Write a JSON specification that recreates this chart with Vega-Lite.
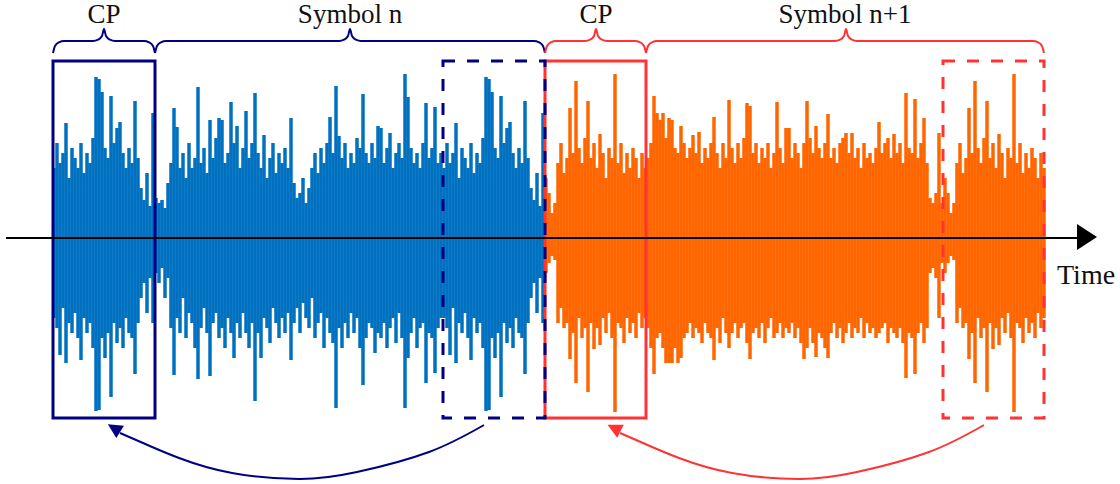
{
"$schema": "https://vega.github.io/schema/vega-lite/v6.json",
"width": 1120, "height": 484,
"autosize": {"type": "fit", "contains": "padding"},
"padding": 0,
"background": "white",
"config": {"view": {"stroke": null}},
"datasets": {
"blue": [
{"x":54,"y":70,"y2":-80},{"x":57,"y":95,"y2":-90},{"x":60,"y":75,"y2":-117},{"x":63,"y":85,"y2":-70},{"x":66,"y":115,"y2":-125},{"x":69,"y":60,"y2":-85},{"x":72,"y":90,"y2":-95},{"x":75,"y":80,"y2":-75},{"x":78,"y":70,"y2":-100},{"x":81,"y":95,"y2":-122},{"x":84,"y":65,"y2":-80},{"x":87,"y":85,"y2":-95},{"x":90,"y":75,"y2":-85},{"x":93,"y":100,"y2":-110},{"x":96,"y":161,"y2":-173},{"x":99,"y":159,"y2":-172},{"x":102,"y":146,"y2":-100},{"x":105,"y":90,"y2":-120},{"x":108,"y":80,"y2":-95},{"x":111,"y":142,"y2":-159},{"x":114,"y":95,"y2":-85},{"x":117,"y":110,"y2":-105},{"x":120,"y":116,"y2":-90},{"x":123,"y":85,"y2":-110},{"x":126,"y":70,"y2":-80},{"x":129,"y":90,"y2":-95},{"x":132,"y":75,"y2":-100},{"x":135,"y":137,"y2":-136},{"x":138,"y":80,"y2":-85},{"x":141,"y":50,"y2":-60},{"x":144,"y":38,"y2":-45},{"x":147,"y":65,"y2":-75},{"x":150,"y":32,"y2":-40},{"x":153,"y":125,"y2":-85},
{"x":156,"y":40,"y2":-35},{"x":159,"y":35,"y2":-45},{"x":162,"y":38,"y2":-30},{"x":165,"y":30,"y2":-60},{"x":168,"y":55,"y2":-40},{"x":171,"y":75,"y2":-90},{"x":174,"y":130,"y2":-137},{"x":177,"y":111,"y2":-80},{"x":180,"y":70,"y2":-95},{"x":183,"y":85,"y2":-60},{"x":186,"y":60,"y2":-100},{"x":189,"y":95,"y2":-75},{"x":192,"y":70,"y2":-85},{"x":195,"y":80,"y2":-110},{"x":198,"y":151,"y2":-141},{"x":201,"y":75,"y2":-90},{"x":204,"y":90,"y2":-70},{"x":207,"y":65,"y2":-95},{"x":210,"y":118,"y2":-138},{"x":213,"y":80,"y2":-85},{"x":216,"y":100,"y2":-75},{"x":219,"y":120,"y2":-100},{"x":222,"y":118,"y2":-90},{"x":225,"y":75,"y2":-110},{"x":228,"y":85,"y2":-80},{"x":231,"y":136,"y2":-95},{"x":234,"y":95,"y2":-120},{"x":237,"y":112,"y2":-85},{"x":240,"y":70,"y2":-100},{"x":243,"y":90,"y2":-75},{"x":246,"y":127,"y2":-95},{"x":249,"y":80,"y2":-110},{"x":252,"y":95,"y2":-85},{"x":255,"y":145,"y2":-163},{"x":258,"y":85,"y2":-95},{"x":261,"y":70,"y2":-120},{"x":264,"y":103,"y2":-80},{"x":267,"y":60,"y2":-90},{"x":270,"y":80,"y2":-105},{"x":273,"y":95,"y2":-70},{"x":276,"y":65,"y2":-85},{"x":279,"y":85,"y2":-100},{"x":282,"y":75,"y2":-80},{"x":285,"y":90,"y2":-95},{"x":288,"y":70,"y2":-75},{"x":291,"y":120,"y2":-122},{"x":294,"y":55,"y2":-85},{"x":297,"y":40,"y2":-70},{"x":300,"y":45,"y2":-95},{"x":303,"y":60,"y2":-65},{"x":306,"y":35,"y2":-80},{"x":309,"y":50,"y2":-90},{"x":312,"y":70,"y2":-60},{"x":315,"y":85,"y2":-100},{"x":318,"y":65,"y2":-85},{"x":321,"y":90,"y2":-75},{"x":324,"y":75,"y2":-110},{"x":327,"y":95,"y2":-80},{"x":330,"y":121,"y2":-95},{"x":333,"y":85,"y2":-105},{"x":336,"y":152,"y2":-170},{"x":339,"y":102,"y2":-90},{"x":342,"y":80,"y2":-110},{"x":345,"y":95,"y2":-85},{"x":348,"y":70,"y2":-100},{"x":351,"y":85,"y2":-75},{"x":354,"y":75,"y2":-95},{"x":357,"y":100,"y2":-80},{"x":360,"y":90,"y2":-110},{"x":363,"y":144,"y2":-147},{"x":366,"y":85,"y2":-100},{"x":369,"y":75,"y2":-85},{"x":372,"y":95,"y2":-90},{"x":375,"y":80,"y2":-115},{"x":378,"y":112,"y2":-95},{"x":381,"y":110,"y2":-100},{"x":384,"y":75,"y2":-85},{"x":387,"y":90,"y2":-110},{"x":390,"y":105,"y2":-90},{"x":393,"y":70,"y2":-80},{"x":396,"y":85,"y2":-105},{"x":399,"y":95,"y2":-75},{"x":402,"y":80,"y2":-100},{"x":405,"y":164,"y2":-170},{"x":408,"y":141,"y2":-120},{"x":411,"y":90,"y2":-95},{"x":414,"y":75,"y2":-80},{"x":417,"y":85,"y2":-110},{"x":420,"y":70,"y2":-90},{"x":423,"y":95,"y2":-85},{"x":426,"y":135,"y2":-145},{"x":429,"y":80,"y2":-95},{"x":432,"y":90,"y2":-100},{"x":435,"y":131,"y2":-135},{"x":438,"y":75,"y2":-90},{"x":441,"y":85,"y2":-80},
{"x":444,"y":70,"y2":-80},{"x":447,"y":95,"y2":-90},{"x":450,"y":75,"y2":-117},{"x":453,"y":85,"y2":-70},{"x":456,"y":115,"y2":-125},{"x":459,"y":60,"y2":-85},{"x":462,"y":90,"y2":-95},{"x":465,"y":80,"y2":-75},{"x":468,"y":70,"y2":-100},{"x":471,"y":95,"y2":-122},{"x":474,"y":65,"y2":-80},{"x":477,"y":85,"y2":-95},{"x":480,"y":75,"y2":-85},{"x":483,"y":100,"y2":-110},{"x":486,"y":161,"y2":-173},{"x":489,"y":159,"y2":-172},{"x":492,"y":146,"y2":-100},{"x":495,"y":90,"y2":-120},{"x":498,"y":80,"y2":-95},{"x":501,"y":142,"y2":-159},{"x":504,"y":95,"y2":-85},{"x":507,"y":110,"y2":-105},{"x":510,"y":116,"y2":-90},{"x":513,"y":85,"y2":-110},{"x":516,"y":70,"y2":-80},{"x":519,"y":90,"y2":-95},{"x":522,"y":75,"y2":-100},{"x":525,"y":137,"y2":-136},{"x":528,"y":80,"y2":-85},{"x":531,"y":50,"y2":-60},{"x":534,"y":38,"y2":-45},{"x":537,"y":65,"y2":-75},{"x":540,"y":32,"y2":-40},{"x":543,"y":125,"y2":-85}
],
"orange": [
{"x":546,"y":60,"y2":-35},{"x":549,"y":45,"y2":-25},{"x":552,"y":25,"y2":-18},{"x":555,"y":35,"y2":-22},{"x":558,"y":75,"y2":-85},{"x":561,"y":95,"y2":-70},{"x":564,"y":65,"y2":-90},{"x":567,"y":80,"y2":-85},{"x":570,"y":130,"y2":-121},{"x":573,"y":85,"y2":-95},{"x":576,"y":157,"y2":-145},{"x":579,"y":90,"y2":-80},{"x":582,"y":75,"y2":-100},{"x":585,"y":100,"y2":-90},{"x":588,"y":137,"y2":-154},{"x":591,"y":80,"y2":-85},{"x":594,"y":95,"y2":-111},{"x":597,"y":70,"y2":-90},{"x":600,"y":104,"y2":-107},{"x":603,"y":85,"y2":-80},{"x":606,"y":60,"y2":-95},{"x":609,"y":90,"y2":-75},{"x":612,"y":80,"y2":-100},{"x":615,"y":164,"y2":-174},{"x":618,"y":75,"y2":-85},{"x":621,"y":95,"y2":-90},{"x":624,"y":65,"y2":-105},{"x":627,"y":85,"y2":-80},{"x":630,"y":70,"y2":-95},{"x":633,"y":90,"y2":-85},{"x":636,"y":80,"y2":-100},{"x":639,"y":60,"y2":-75},{"x":642,"y":85,"y2":-90},{"x":645,"y":70,"y2":-80},
{"x":648,"y":80,"y2":-90},{"x":651,"y":95,"y2":-110},{"x":654,"y":142,"y2":-136},{"x":657,"y":125,"y2":-100},{"x":660,"y":118,"y2":-95},{"x":663,"y":125,"y2":-110},{"x":666,"y":100,"y2":-125},{"x":669,"y":120,"y2":-125},{"x":672,"y":118,"y2":-125},{"x":675,"y":90,"y2":-110},{"x":678,"y":85,"y2":-125},{"x":681,"y":112,"y2":-120},{"x":684,"y":95,"y2":-100},{"x":687,"y":80,"y2":-95},{"x":690,"y":90,"y2":-85},{"x":693,"y":103,"y2":-100},{"x":696,"y":85,"y2":-90},{"x":699,"y":106,"y2":-95},{"x":702,"y":75,"y2":-105},{"x":705,"y":90,"y2":-85},{"x":708,"y":80,"y2":-95},{"x":711,"y":95,"y2":-100},{"x":714,"y":121,"y2":-122},{"x":717,"y":85,"y2":-90},{"x":720,"y":70,"y2":-105},{"x":723,"y":95,"y2":-80},{"x":726,"y":80,"y2":-95},{"x":729,"y":138,"y2":-110},{"x":732,"y":90,"y2":-95},{"x":735,"y":75,"y2":-85},{"x":738,"y":95,"y2":-100},{"x":741,"y":80,"y2":-90},{"x":744,"y":100,"y2":-85},{"x":747,"y":135,"y2":-105},{"x":750,"y":132,"y2":-121},{"x":753,"y":85,"y2":-95},{"x":756,"y":95,"y2":-90},{"x":759,"y":75,"y2":-100},{"x":762,"y":90,"y2":-85},{"x":765,"y":80,"y2":-105},{"x":768,"y":95,"y2":-90},{"x":771,"y":70,"y2":-80},{"x":774,"y":85,"y2":-100},{"x":777,"y":136,"y2":-95},{"x":780,"y":90,"y2":-85},{"x":783,"y":75,"y2":-100},{"x":786,"y":110,"y2":-90},{"x":789,"y":110,"y2":-95},{"x":792,"y":80,"y2":-85},{"x":795,"y":95,"y2":-100},{"x":798,"y":85,"y2":-90},{"x":801,"y":70,"y2":-105},{"x":804,"y":95,"y2":-121},{"x":807,"y":137,"y2":-110},{"x":810,"y":100,"y2":-90},{"x":813,"y":85,"y2":-105},{"x":816,"y":112,"y2":-119},{"x":819,"y":90,"y2":-95},{"x":822,"y":80,"y2":-100},{"x":825,"y":95,"y2":-110},{"x":828,"y":124,"y2":-120},{"x":831,"y":80,"y2":-95},{"x":834,"y":90,"y2":-85},{"x":837,"y":75,"y2":-100},{"x":840,"y":95,"y2":-90},{"x":843,"y":100,"y2":-105},{"x":846,"y":105,"y2":-95},{"x":849,"y":85,"y2":-85},{"x":852,"y":105,"y2":-100},{"x":855,"y":80,"y2":-90},{"x":858,"y":90,"y2":-95},{"x":861,"y":70,"y2":-80},{"x":864,"y":95,"y2":-100},{"x":867,"y":80,"y2":-85},{"x":870,"y":85,"y2":-95},{"x":873,"y":75,"y2":-90},{"x":876,"y":90,"y2":-100},{"x":879,"y":116,"y2":-95},{"x":882,"y":85,"y2":-90},{"x":885,"y":95,"y2":-85},{"x":888,"y":100,"y2":-105},{"x":891,"y":80,"y2":-90},{"x":894,"y":104,"y2":-95},{"x":897,"y":85,"y2":-100},{"x":900,"y":95,"y2":-90},{"x":903,"y":75,"y2":-105},{"x":906,"y":145,"y2":-140},{"x":909,"y":90,"y2":-95},{"x":912,"y":85,"y2":-100},{"x":915,"y":139,"y2":-136},{"x":918,"y":80,"y2":-95},{"x":921,"y":95,"y2":-85},{"x":924,"y":120,"y2":-105},{"x":927,"y":75,"y2":-90},{"x":930,"y":40,"y2":-35},{"x":933,"y":35,"y2":-30},{"x":936,"y":45,"y2":-40},{"x":939,"y":105,"y2":-80},{"x":942,"y":35,"y2":-25},
{"x":945,"y":60,"y2":-35},{"x":948,"y":45,"y2":-25},{"x":951,"y":25,"y2":-18},{"x":954,"y":35,"y2":-22},{"x":957,"y":75,"y2":-85},{"x":960,"y":95,"y2":-70},{"x":963,"y":65,"y2":-90},{"x":966,"y":80,"y2":-85},{"x":969,"y":130,"y2":-121},{"x":972,"y":85,"y2":-95},{"x":975,"y":157,"y2":-145},{"x":978,"y":90,"y2":-80},{"x":981,"y":75,"y2":-100},{"x":984,"y":100,"y2":-90},{"x":987,"y":137,"y2":-154},{"x":990,"y":80,"y2":-85},{"x":993,"y":95,"y2":-111},{"x":996,"y":70,"y2":-90},{"x":999,"y":104,"y2":-107},{"x":1002,"y":85,"y2":-80},{"x":1005,"y":60,"y2":-95},{"x":1008,"y":90,"y2":-75},{"x":1011,"y":80,"y2":-100},{"x":1014,"y":164,"y2":-174},{"x":1017,"y":75,"y2":-85},{"x":1020,"y":95,"y2":-90},{"x":1023,"y":65,"y2":-105},{"x":1026,"y":85,"y2":-80},{"x":1029,"y":70,"y2":-95},{"x":1032,"y":90,"y2":-85},{"x":1035,"y":80,"y2":-100},{"x":1038,"y":60,"y2":-75},{"x":1041,"y":85,"y2":-90},{"x":1044,"y":70,"y2":-80}
],
"braces": [
{"x":53,"y":185,"g":"A","s":"n"},{"x":55,"y":192,"g":"A","s":"n"},{"x":59,"y":195.7,"g":"A","s":"n"},{"x":64,"y":197,"g":"A","s":"n"},{"x":93,"y":197,"g":"A","s":"n"},{"x":98,"y":198.3,"g":"A","s":"n"},{"x":102,"y":202,"g":"A","s":"n"},{"x":104,"y":209,"g":"A","s":"n"},{"x":106,"y":202,"g":"A","s":"n"},{"x":110,"y":198.3,"g":"A","s":"n"},{"x":115,"y":197,"g":"A","s":"n"},{"x":144,"y":197,"g":"A","s":"n"},{"x":149,"y":195.7,"g":"A","s":"n"},{"x":153,"y":192,"g":"A","s":"n"},{"x":155,"y":185,"g":"A","s":"n"},
{"x":155,"y":185,"g":"B","s":"n"},{"x":157,"y":192,"g":"B","s":"n"},{"x":161,"y":195.7,"g":"B","s":"n"},{"x":166,"y":197,"g":"B","s":"n"},{"x":339,"y":197,"g":"B","s":"n"},{"x":344,"y":198.3,"g":"B","s":"n"},{"x":348,"y":202,"g":"B","s":"n"},{"x":350,"y":209,"g":"B","s":"n"},{"x":352,"y":202,"g":"B","s":"n"},{"x":356,"y":198.3,"g":"B","s":"n"},{"x":361,"y":197,"g":"B","s":"n"},{"x":534,"y":197,"g":"B","s":"n"},{"x":539,"y":195.7,"g":"B","s":"n"},{"x":543,"y":192,"g":"B","s":"n"},{"x":545,"y":185,"g":"B","s":"n"},
{"x":545,"y":185,"g":"C","s":"n1"},{"x":547,"y":192,"g":"C","s":"n1"},{"x":551,"y":195.7,"g":"C","s":"n1"},{"x":556,"y":197,"g":"C","s":"n1"},{"x":585,"y":197,"g":"C","s":"n1"},{"x":590,"y":198.3,"g":"C","s":"n1"},{"x":594,"y":202,"g":"C","s":"n1"},{"x":596,"y":209,"g":"C","s":"n1"},{"x":598,"y":202,"g":"C","s":"n1"},{"x":602,"y":198.3,"g":"C","s":"n1"},{"x":607,"y":197,"g":"C","s":"n1"},{"x":635,"y":197,"g":"C","s":"n1"},{"x":640,"y":195.7,"g":"C","s":"n1"},{"x":644,"y":192,"g":"C","s":"n1"},{"x":646,"y":185,"g":"C","s":"n1"},
{"x":646,"y":185,"g":"D","s":"n1"},{"x":648,"y":192,"g":"D","s":"n1"},{"x":652,"y":195.7,"g":"D","s":"n1"},{"x":657,"y":197,"g":"D","s":"n1"},{"x":835,"y":197,"g":"D","s":"n1"},{"x":840,"y":198.3,"g":"D","s":"n1"},{"x":844,"y":202,"g":"D","s":"n1"},{"x":846,"y":209,"g":"D","s":"n1"},{"x":848,"y":202,"g":"D","s":"n1"},{"x":852,"y":198.3,"g":"D","s":"n1"},{"x":857,"y":197,"g":"D","s":"n1"},{"x":1033,"y":197,"g":"D","s":"n1"},{"x":1038,"y":195.7,"g":"D","s":"n1"},{"x":1042,"y":192,"g":"D","s":"n1"},{"x":1044,"y":185,"g":"D","s":"n1"}
]
},
"encoding": {
"x": {"field": "x", "type": "quantitative", "scale": {"domain": [0, 1120], "nice": false, "zero": false}, "axis": null},
"y": {"field": "y", "type": "quantitative", "scale": {"domain": [-246, 238], "nice": false, "zero": false}, "axis": null}
},
"layer": [
{"data": {"name": "blue"}, "mark": {"type": "rule", "strokeWidth": 3.5, "color": "#0070C0", "strokeCap": "butt"}, "encoding": {"y2": {"field": "y2"}}},
{"data": {"name": "orange"}, "mark": {"type": "rule", "strokeWidth": 3.5, "color": "#FF6600", "strokeCap": "butt"}, "encoding": {"y2": {"field": "y2"}}},
{"data": {"values": [{"x": 545, "x2": 646, "y": 177, "y2": -180}]}, "mark": {"type": "rect", "filled": false, "color": "#FF3333", "strokeWidth": 3}, "encoding": {"x2": {"field": "x2"}, "y2": {"field": "y2"}}},
{"data": {"values": [{"x": 943, "x2": 1044, "y": 177, "y2": -180}]}, "mark": {"type": "rect", "filled": false, "color": "#FF3333", "strokeWidth": 3, "strokeDash": [12, 12]}, "encoding": {"x2": {"field": "x2"}, "y2": {"field": "y2"}}},
{"data": {"values": [{"x": 53, "x2": 155, "y": 177, "y2": -180}]}, "mark": {"type": "rect", "filled": false, "color": "#000080", "strokeWidth": 3}, "encoding": {"x2": {"field": "x2"}, "y2": {"field": "y2"}}},
{"data": {"values": [{"x": 443, "x2": 545, "y": 177, "y2": -180}]}, "mark": {"type": "rect", "filled": false, "color": "#000080", "strokeWidth": 3, "strokeDash": [12, 12]}, "encoding": {"x2": {"field": "x2"}, "y2": {"field": "y2"}}},
{"data": {"values": [{"x": 6, "x2": 1080, "y": 0}]}, "mark": {"type": "rule", "strokeWidth": 2, "color": "black"}, "encoding": {"x2": {"field": "x2"}}},
{"data": {"values": [{"x": 1087, "y": 1}]}, "mark": {"type": "point", "shape": "M-0.77,-1L0.77,0L-0.77,1Z", "size": 676, "filled": true, "color": "black", "opacity": 1}},
{"data": {"name": "braces"}, "mark": {"type": "line", "interpolate": "monotone", "strokeWidth": 2}, "encoding": {"detail": {"field": "g"}, "color": {"field": "s", "type": "nominal", "scale": {"domain": ["n", "n1"], "range": ["#000080", "#FF3333"]}, "legend": null}}},
{"data": {"values": [{"x": 104, "y": 215, "label": "CP"}, {"x": 350, "y": 215, "label": "Symbol n"}, {"x": 596, "y": 215, "label": "CP"}, {"x": 845, "y": 215, "label": "Symbol n+1"}]}, "mark": {"type": "text", "font": "Liberation Serif", "fontSize": 27, "align": "center", "baseline": "alphabetic", "color": "#111111"}, "encoding": {"text": {"field": "label"}}},
{"data": {"values": [{"x": 1057, "y": -46, "label": "Time"}]}, "mark": {"type": "text", "font": "Liberation Serif", "fontSize": 28, "align": "left", "baseline": "alphabetic", "color": "#111111"}, "encoding": {"text": {"field": "label"}}},
{"data": {"values": [{"x": 484, "y": -187}, {"x": 429, "y": -214}, {"x": 357, "y": -234}, {"x": 300, "y": -241}, {"x": 232, "y": -235}, {"x": 179, "y": -220}, {"x": 143, "y": -205}, {"x": 120, "y": -195}]}, "mark": {"type": "line", "interpolate": "natural", "strokeWidth": 2, "color": "#000080"}},
{"data": {"values": [{"x": 984, "y": -187}, {"x": 929, "y": -214}, {"x": 857, "y": -234}, {"x": 800, "y": -241}, {"x": 732, "y": -235}, {"x": 679, "y": -220}, {"x": 643, "y": -205}, {"x": 620, "y": -195}]}, "mark": {"type": "line", "interpolate": "natural", "strokeWidth": 2, "color": "#FF3333"}},
{"data": {"values": [{"x": 114, "y": -190}]}, "mark": {"type": "point", "shape": "M1,0L-1,-1L-1,1Z", "size": 210, "angle": 212, "filled": true, "color": "#000080", "opacity": 1}},
{"data": {"values": [{"x": 614, "y": -190}]}, "mark": {"type": "point", "shape": "M1,0L-1,-1L-1,1Z", "size": 210, "angle": 207, "filled": true, "color": "#FF3333", "opacity": 1}}
]
}
